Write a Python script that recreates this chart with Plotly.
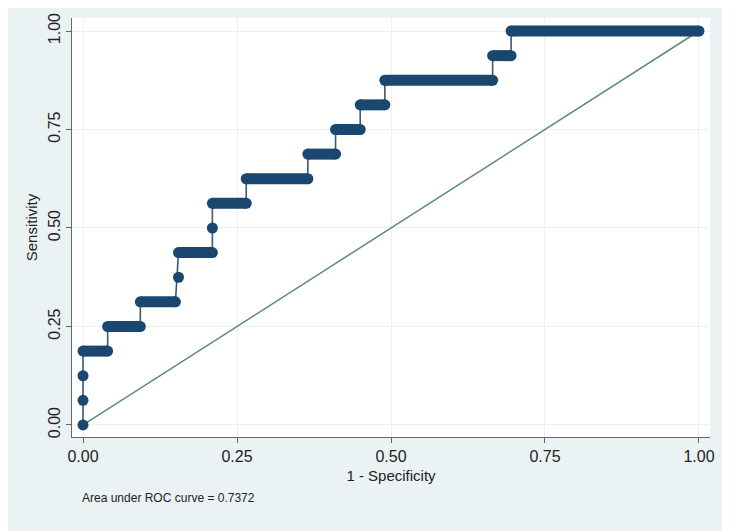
import plotly.graph_objects as go

# ROC steps: each horizontal run at a sensitivity level
run_sens = [0.1875, 0.25, 0.3125, 0.4375, 0.5625, 0.625, 0.6875, 0.75, 0.8125, 0.875, 0.9375, 1.0]
run_start = [0.0, 0.04, 0.093, 0.155, 0.21, 0.265, 0.365, 0.41, 0.45, 0.49, 0.665, 0.695]
run_end = [0.04, 0.093, 0.15, 0.21, 0.265, 0.365, 0.41, 0.45, 0.49, 0.665, 0.695, 1.0]
# isolated points (single thresholds)
single_fpr = [0.0, 0.0, 0.0, 0.155, 0.21]
single_sens = [0.0, 0.0625, 0.125, 0.375, 0.5]

x_ticks = [0, 0.25, 0.5, 0.75, 1.0]
x_labels = ["0.00", "0.25", "0.50", "0.75", "1.00"]
y_ticks = [0, 0.25, 0.5, 0.75, 1.0]
y_labels = ["0.00", "0.25", "0.50", "0.75", "1.00"]
auc = 0.7372

navy = "#1a476f"
diag_col = "#5e8a7a"

# thin step path through all points
path_x, path_y = [0.0], [0.0]
for fx, sy in zip(single_fpr[1:3], single_sens[1:3]):
    path_x.append(fx); path_y.append(sy)
for s, a, b in zip(run_sens, run_start, run_end):
    path_x += [a, b]
    path_y += [s, s]

# thick horizontal bars
bar_x, bar_y = [], []
for s, a, b in zip(run_sens, run_start, run_end):
    bar_x += [a, b, None]
    bar_y += [s, s, None]

end_x = run_start + run_end + single_fpr
end_y = run_sens + run_sens + single_sens

font = "Liberation Sans, Arial, sans-serif"
ML, MR, MT, MB = 64, 28, 10, 102
W, H = 730, 531

fig = go.Figure()
fig.add_trace(go.Scatter(x=[0, 1], y=[0, 1], mode="lines",
                         line=dict(color=diag_col, width=1.5), hoverinfo="skip"))
fig.add_trace(go.Scatter(x=path_x, y=path_y, mode="lines",
                         line=dict(color="#3a5a78", width=1.6), hoverinfo="skip"))
fig.add_trace(go.Scatter(x=bar_x, y=bar_y, mode="lines",
                         line=dict(color=navy, width=11), hoverinfo="skip"))
fig.add_trace(go.Scatter(x=end_x, y=end_y, mode="markers",
                         marker=dict(color=navy, size=11, line=dict(width=0))))

fig.update_layout(
    width=W, height=H,
    paper_bgcolor="#eaf2f3", plot_bgcolor="white",
    margin=dict(l=ML, r=MR, t=MT, b=MB, autoexpand=False),
    showlegend=False,
    font=dict(family=font, size=14, color="#222"),
)
fig.update_xaxes(range=[-0.0179, 1.0179], tickvals=x_ticks, ticktext=x_labels,
                 showgrid=True, gridcolor="#efefef", gridwidth=1, zeroline=False,
                 showline=True, linecolor="#666", linewidth=1,
                 ticks="outside", ticklen=5, tickcolor="#666",
                 title=dict(text="1 - Specificity", font=dict(size=15), standoff=6),
                 tickfont=dict(size=16))
fig.update_yaxes(range=[-0.0305, 1.033], tickvals=y_ticks, ticktext=y_labels,
                 showgrid=True, gridcolor="#efefef", gridwidth=1, zeroline=False,
                 showline=True, linecolor="#666", linewidth=1,
                 ticks="outside", ticklen=5, tickcolor="#666", tickangle=-90,
                 title=dict(text="Sensitivity", font=dict(size=15), standoff=4),
                 tickfont=dict(size=16))
plot_w = W - ML - MR
plot_h = H - MT - MB
fig.add_annotation(x=(72 - ML) / plot_w, y=((H - MB) - 490) / plot_h,
                   xref="paper", yref="paper", text=f"Area under ROC curve = {auc}",
                   showarrow=False, font=dict(size=12, color="#222"),
                   xanchor="left", yanchor="middle")

fig.write_html("out.html")
